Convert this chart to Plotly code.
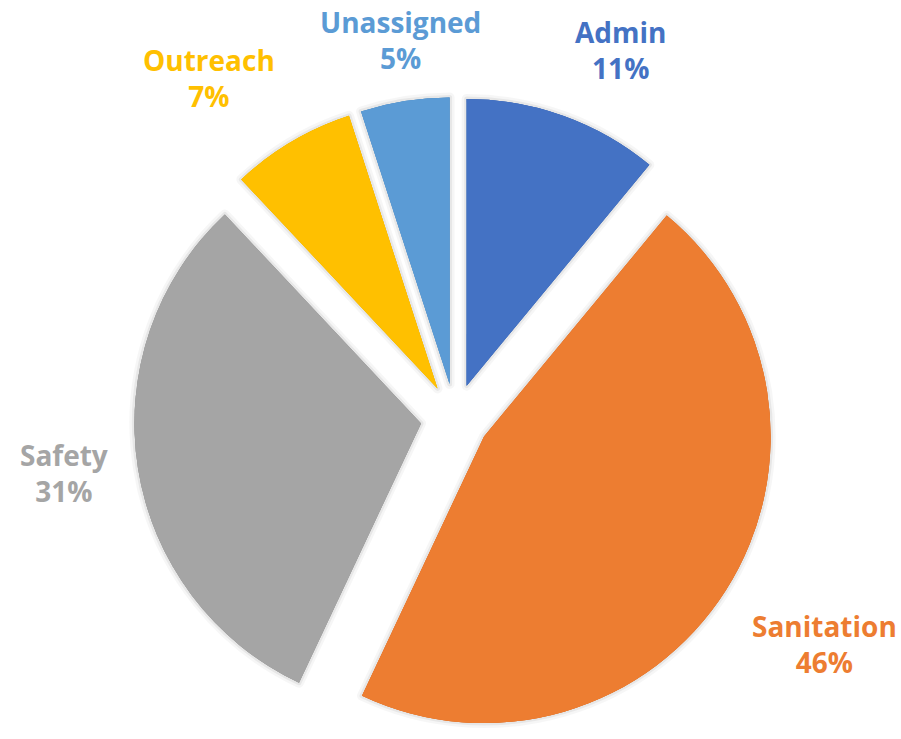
import math
import plotly.graph_objects as go

# Dados
categorias = ['Admin', 'Sanitation', 'Safety', 'Outreach', 'Unassigned']
valores = [11, 46, 31, 7, 5]
cores = ['#4472C4', '#ED7D31', '#A5A5A5', '#FFC000', '#5B9BD5']

W, H = 901, 739
PULL = 0.12
FONTE = 28
dom_x = [0.01, 1.0]
dom_y = [0.0, 0.8687]

fig = go.Figure()

# sombra suave por trás das fatias (imitando o Excel)
for largura, alfa in [(10, 0.035), (5, 0.06)]:
    fig.add_trace(go.Pie(labels=categorias, values=valores,
                         sort=False, direction='clockwise', rotation=0,
                         pull=[PULL] * len(valores),
                         marker=dict(colors=cores,
                                     line=dict(width=largura, color=f'rgba(0,0,0,{alfa})')),
                         textinfo='none', hoverinfo='skip',
                         domain=dict(x=dom_x, y=dom_y),
                         showlegend=False))

fig.add_trace(go.Pie(labels=categorias, values=valores,
                     sort=False, direction='clockwise', rotation=0,
                     pull=[PULL] * len(valores),
                     marker=dict(colors=cores, line=dict(width=0)),
                     textinfo='none',
                     domain=dict(x=dom_x, y=dom_y),
                     showlegend=False,
                     hovertemplate='%{label}: %{percent}<extra></extra>'))

# Rótulos fora da pizza, na bissetriz de cada fatia
cx = W * (dom_x[0] + dom_x[1]) / 2
cy = H * (1 - (dom_y[0] + dom_y[1]) / 2)
raio = min(W * (dom_x[1] - dom_x[0]), H * (dom_y[1] - dom_y[0])) / 2 / (1 + PULL)
dist = raio * 1.22
altura_rotulo = 2 * 1.3 * FONTE + 6  # duas linhas de texto

total = sum(valores)
acum = 0
for cat, v, cor in zip(categorias, valores, cores):
    ang = math.radians((acum + v / 2) / total * 360)
    acum += v
    ux, uy = math.sin(ang), -math.cos(ang)
    px, py = cx + ux * dist, cy + uy * dist
    xanchor = 'left' if ux > 0.3 else ('right' if ux < -0.3 else 'center')
    yanchor = 'top' if uy > 0.3 else ('bottom' if uy < -0.3 else 'middle')
    if yanchor == 'bottom':
        py = max(py, altura_rotulo)  # não deixa o rótulo sair por cima
    fig.add_annotation(x=px / W, y=1 - py / H, xref='paper', yref='paper',
                       text=f'{cat}<br>{round(v / total * 100)}%',
                       showarrow=False, xanchor=xanchor, yanchor=yanchor,
                       align='center',
                       font=dict(family='Open Sans', size=FONTE, color=cor, weight='bold'))

fig.update_layout(width=W, height=H,
                  margin=dict(l=0, r=0, t=0, b=0),
                  paper_bgcolor='white', plot_bgcolor='white')

# tira a margem padrão do <body> para o gráfico ocupar a janela inteira
fig.write_html("out.html", config={'displayModeBar': False},
               post_script="document.body.style.margin = '0';")
